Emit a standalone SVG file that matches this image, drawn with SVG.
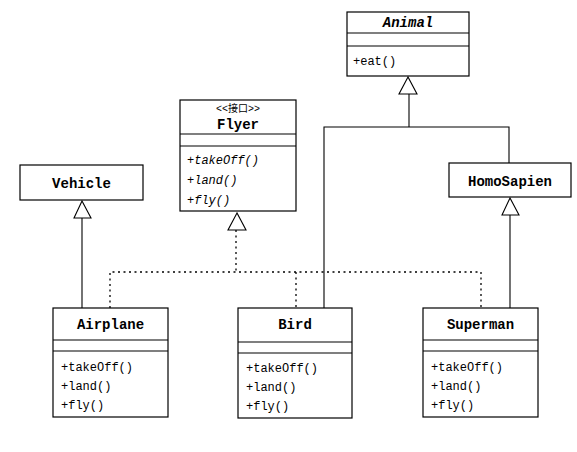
<svg xmlns="http://www.w3.org/2000/svg" width="577" height="452" viewBox="0 0 577 452">
<style>
.box{fill:#fff;stroke:#000;stroke-width:1.2}
.div{stroke:#000;stroke-width:1.2}
.name{font-family:"Liberation Mono",monospace;font-weight:bold;font-size:14px;text-anchor:middle;fill:#000}
.op{font-family:"Liberation Mono",monospace;font-size:12px;fill:#000}
.st{font-family:"Liberation Mono","Noto Sans CJK SC",monospace;font-size:10px;text-anchor:middle;fill:#000}
.ln{fill:none;stroke:#000;stroke-width:1.1}
.dot{fill:none;stroke:#000;stroke-width:1.3;stroke-dasharray:2 3.5}
.tri{fill:#fff;stroke:#000;stroke-width:1.1}
</style>
<rect width="577" height="452" fill="#fff"/>
<g id="connectors">
<polyline class="ln" points="409,94 409,127"/>
<polyline class="ln" points="324,308 324,127 509,127 509,163"/>
<polyline class="ln" points="82,218 82,308"/>
<polyline class="ln" points="510,215 510,308"/>
<polyline class="dot" points="236,230 236,272"/>
<polyline class="dot" points="110,308 110,272 481,272 481,308"/>
<polyline class="dot" points="296,272 296,308"/>
<polygon class="tri" points="408,77 399,94 417,94"/>
<polygon class="tri" points="237,213 228,230 246,230"/>
<polygon class="tri" points="82,201 74,218 91,218"/>
<polygon class="tri" points="510,198 502,215 519,215"/>
</g>
<g id="Animal">
<rect class="box" x="347" y="12" width="122" height="64"/>
<line class="div" x1="347" y1="33" x2="469" y2="33"/>
<line class="div" x1="347" y1="46" x2="469" y2="46"/>
<text class="name" x="408" y="27" font-style="italic">Animal</text>
<text class="op" x="353" y="65">+eat()</text>
</g>
<g id="Flyer">
<rect class="box" x="180" y="100" width="116" height="111"/>
<line class="div" x1="180" y1="134" x2="296" y2="134"/>
<line class="div" x1="180" y1="146" x2="296" y2="146"/>
<text class="st" x="238" y="112">&lt;&lt;接口&gt;&gt;</text>
<text class="name" x="238" y="129">Flyer</text>
<text class="op" x="187" y="164" font-style="italic">+takeOff()</text>
<text class="op" x="187" y="184" font-style="italic">+land()</text>
<text class="op" x="187" y="204" font-style="italic">+fly()</text>
</g>
<g id="Vehicle">
<rect class="box" x="20" y="165" width="123" height="35"/>
<text class="name" x="81.5" y="188">Vehicle</text>
</g>
<g id="HomoSapien">
<rect class="box" x="449" y="163" width="122" height="34"/>
<text class="name" x="510" y="186">HomoSapien</text>
</g>
<g id="Airplane">
<rect class="box" x="53" y="308" width="115" height="109"/>
<line class="div" x1="53" y1="340" x2="168" y2="340"/>
<line class="div" x1="53" y1="351" x2="168" y2="351"/>
<text class="name" x="110.5" y="329">Airplane</text>
<text class="op" x="61" y="371">+takeOff()</text>
<text class="op" x="61" y="390">+land()</text>
<text class="op" x="61" y="409">+fly()</text>
</g>
<g id="Bird">
<rect class="box" x="238" y="308" width="114" height="110"/>
<line class="div" x1="238" y1="342" x2="352" y2="342"/>
<line class="div" x1="238" y1="353" x2="352" y2="353"/>
<text class="name" x="295" y="329">Bird</text>
<text class="op" x="246" y="372">+takeOff()</text>
<text class="op" x="246" y="391">+land()</text>
<text class="op" x="246" y="410">+fly()</text>
</g>
<g id="Superman">
<rect class="box" x="423" y="308" width="115" height="109"/>
<line class="div" x1="423" y1="340" x2="538" y2="340"/>
<line class="div" x1="423" y1="351" x2="538" y2="351"/>
<text class="name" x="480.5" y="329">Superman</text>
<text class="op" x="431" y="371">+takeOff()</text>
<text class="op" x="431" y="390">+land()</text>
<text class="op" x="431" y="409">+fly()</text>
</g>
</svg>
